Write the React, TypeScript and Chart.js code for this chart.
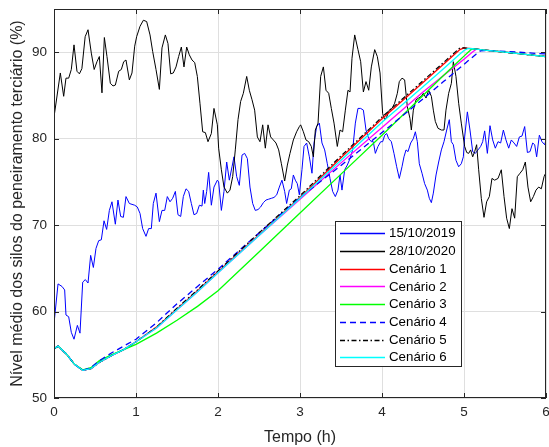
import React, { useEffect, useRef } from "react";
import { Chart, registerables } from "chart.js";

Chart.register(...registerables);

// ---------- DATA ----------
const xTicks = [0, 1, 2, 3, 4, 5, 6];
const yTicks = [50, 60, 70, 80, 90];

const labels = ["15/10/2019", "28/10/2020", "Cenário 1", "Cenário 2", "Cenário 3", "Cenário 4", "Cenário 5", "Cenário 6"];

const blueT = [
  0.0, 0.049, 0.098, 0.13, 0.146, 0.179, 0.211, 0.244, 0.285, 0.317, 0.35, 0.382, 0.415, 0.447, 0.48, 0.512, 0.545, 0.577, 0.61, 0.642, 0.675, 0.707, 0.748, 0.78, 0.813, 0.846, 0.878, 0.919, 0.984,
  1.016, 1.049, 1.081, 1.122, 1.154, 1.187, 1.211, 1.244, 1.285, 1.317, 1.35, 1.382, 1.415, 1.447, 1.48, 1.512, 1.545, 1.577, 1.61, 1.642, 1.675, 1.707, 1.74, 1.773, 1.805, 1.821, 1.838, 1.862, 1.886, 1.919, 1.951, 1.992,
  2.008, 2.041, 2.073, 2.106, 2.138, 2.171, 2.195, 2.228, 2.26, 2.293, 2.325, 2.358, 2.39, 2.423, 2.455, 2.488, 2.52, 2.553, 2.585, 2.618, 2.65, 2.683, 2.716, 2.748, 2.78, 2.813, 2.837, 2.87, 2.894, 2.919, 2.943, 2.967, 2.992,
  3.024, 3.049, 3.081, 3.114, 3.146, 3.171, 3.203, 3.236, 3.268, 3.301, 3.333, 3.366, 3.398, 3.431, 3.463, 3.488, 3.512, 3.545, 3.577, 3.61, 3.642, 3.675, 3.707, 3.74, 3.773, 3.805, 3.838, 3.87, 3.894, 3.919, 3.951, 3.984,
  4.008, 4.033, 4.057, 4.081, 4.114, 4.146, 4.179, 4.211, 4.244, 4.268, 4.293, 4.317, 4.35, 4.382, 4.407, 4.431, 4.455, 4.488, 4.52, 4.553, 4.577, 4.602, 4.626, 4.659, 4.691, 4.724, 4.756, 4.789, 4.821, 4.846, 4.87, 4.902, 4.935, 4.967, 4.992,
  5.008, 5.041, 5.073, 5.106, 5.138, 5.171, 5.203, 5.228, 5.252, 5.285, 5.317, 5.35, 5.382, 5.415, 5.447, 5.48, 5.512, 5.545, 5.577, 5.61, 5.642, 5.675, 5.707, 5.74, 5.773, 5.805, 5.838, 5.862, 5.886, 5.919, 5.951, 5.984, 6.0,
];
const blueV = [
  58.6, 63.2, 62.9, 62.5, 59.6, 59.4, 57.6, 56.8, 58.4, 57.5, 63.4, 63.7, 63.3, 66.5, 65.1, 67.3, 68.2, 68.3, 70.5, 69.5, 71.7, 72.7, 70.1, 72.9, 71.0, 70.9, 73.3, 72.5, 72.3,
  72.1, 71.35, 69.6, 68.7, 69.6, 69.6, 72.5, 73.7, 70.4, 71.7, 71.7, 73.3, 72.7, 73.1, 73.9, 71.2, 71.0, 73.3, 74.2, 73.9, 72.5, 71.2, 71.35, 72.3, 72.2, 74.05, 72.5, 73.9, 76.1, 72.3, 74.4, 75.2,
  75.0, 71.7, 73.9, 77.3, 75.2, 76.75, 77.9, 75.6, 74.6, 78.1, 78.3, 77.7, 74.4, 72.5, 71.7, 71.8, 72.1, 72.6, 72.9, 73.0, 73.1, 73.2, 73.5, 74.4, 75.2, 73.9, 72.5, 74.05, 74.2, 75.8, 75.2, 74.8, 73.5,
  76.4, 79.1, 79.5, 77.9, 76.0, 79.5, 81.4, 81.8, 79.5, 78.7, 77.1, 75.4, 73.9, 73.3, 74.05, 75.8, 74.05, 76.4, 76.95, 77.7, 78.7, 81.8, 83.5, 83.5, 83.3, 81.0, 80.0, 79.65, 79.65, 78.3, 79.1, 79.65,
  79.65, 80.4, 80.6, 80.0, 79.65, 78.3, 76.75, 75.4, 76.75, 77.9, 78.7, 78.5, 79.5, 80.0, 80.8, 79.65, 77.1, 76.0, 74.8, 74.05, 73.1, 72.6, 73.7, 75.8, 77.3, 78.7, 79.65, 81.0, 82.2, 79.65, 79.3, 77.5, 76.75, 77.1, 77.9,
  80.2, 83.1, 81.0, 78.5, 78.3, 78.7, 79.1, 79.65, 80.9, 78.3, 81.5, 79.85, 78.9, 79.65, 79.5, 81.0, 79.85, 78.9, 79.85, 79.5, 79.1, 80.2, 80.3, 81.4, 78.4, 78.5, 79.5, 79.3, 77.9, 80.4, 79.65, 79.3, 79.85,
];

const blackT = [
  0.0, 0.077, 0.118, 0.146, 0.179, 0.211, 0.244, 0.28, 0.31, 0.34, 0.38, 0.415, 0.455, 0.49, 0.524, 0.553, 0.585, 0.614, 0.646, 0.687, 0.72, 0.748, 0.789, 0.821, 0.85, 0.878, 0.919, 0.951, 0.984,
  1.008, 1.049, 1.09, 1.13, 1.171, 1.203, 1.244, 1.285, 1.317, 1.358, 1.39, 1.423, 1.455, 1.488, 1.52, 1.553, 1.585, 1.618, 1.65, 1.683, 1.716, 1.748, 1.78, 1.813, 1.846, 1.878, 1.919, 1.951, 1.992,
  2.008, 2.041, 2.073, 2.114, 2.146, 2.179, 2.211, 2.244, 2.276, 2.309, 2.35, 2.382, 2.415, 2.447, 2.48, 2.512, 2.545, 2.577, 2.61, 2.642, 2.675, 2.707, 2.74, 2.773, 2.813, 2.846, 2.878, 2.919, 2.959, 2.992,
  3.008, 3.041, 3.073, 3.106, 3.138, 3.163, 3.187, 3.22, 3.252, 3.285, 3.317, 3.35, 3.382, 3.415, 3.455, 3.488, 3.52, 3.553, 3.585, 3.61, 3.634, 3.667, 3.707, 3.74, 3.773, 3.805, 3.838, 3.87, 3.911, 3.943,
  3.976, 4.008, 4.033, 4.057, 4.089, 4.122, 4.154, 4.187, 4.211, 4.244, 4.276, 4.309, 4.341, 4.358, 4.382, 4.415, 4.447, 4.48, 4.504, 4.537, 4.569, 4.602, 4.626, 4.65, 4.683, 4.724, 4.756, 4.78, 4.813, 4.846, 4.87, 4.902, 4.935, 4.967,
  5.008, 5.033, 5.057, 5.081, 5.106, 5.13, 5.154, 5.179, 5.211, 5.244, 5.276, 5.309, 5.341, 5.374, 5.415, 5.455, 5.488, 5.52, 5.553, 5.585, 5.618, 5.65, 5.683, 5.716, 5.748, 5.78, 5.813, 5.846, 5.878, 5.911, 5.943, 5.976, 6.0,
];
const blackV = [
  82.5, 87.6, 84.9, 87.0, 87.0, 88.0, 90.85, 87.8, 87.5, 88.1, 91.8, 92.6, 89.9, 88.0, 88.9, 89.5, 85.3, 91.7, 89.5, 86.4, 86.1, 86.2, 87.8, 88.0, 88.9, 89.1, 86.8, 87.6, 90.7,
  91.8, 93.0, 93.7, 93.55, 92.0, 90.1, 88.0, 85.7, 90.5, 92.0, 91.0, 87.5, 87.6, 88.3, 89.5, 90.6, 88.3, 90.6, 89.7, 89.1, 88.8, 87.2, 84.1, 80.8, 80.7, 79.65, 80.6, 83.5, 81.6,
  78.9, 76.4, 74.4, 73.7, 74.05, 75.6, 78.7, 82.2, 84.3, 85.25, 87.2, 85.6, 84.5, 83.3, 80.2, 79.65, 81.6, 78.9, 81.6, 80.2, 79.85, 79.5, 78.7, 77.1, 75.1, 76.95, 78.3, 79.85, 80.8, 81.4,
  81.6, 80.8, 79.85, 79.65, 79.1, 77.9, 81.0, 81.8, 87.2, 88.3, 85.6, 85.25, 83.5, 81.8, 79.1, 81.0, 80.8, 83.3, 85.6, 85.4, 89.3, 92.0, 90.3, 88.9, 85.4, 86.6, 85.6, 88.3, 90.3, 89.5,
  87.6, 82.9, 82.2, 82.5, 83.3, 83.5, 84.1, 85.25, 86.6, 87.0, 86.8, 83.7, 82.35, 81.0, 83.3, 84.5, 84.7, 84.9, 85.25, 84.7, 85.6, 84.9, 83.3, 82.0, 81.2, 81.0, 81.0, 83.3, 85.25, 86.4, 88.9, 87.2, 84.1, 81.8,
  79.1, 78.4, 78.3, 78.7, 77.9, 78.5, 79.3, 76.4, 73.1, 70.9, 72.7, 73.3, 75.4, 75.2, 75.4, 76.4, 73.3, 70.8, 69.6, 71.9, 70.8, 75.6, 76.0, 76.4, 77.3, 74.4, 72.7, 73.3, 74.05, 74.4, 74.2, 75.6, 76.1,
];

const scenT = [0, 0.05, 0.15, 0.25, 0.35, 0.45, 0.55, 0.7, 0.85, 1.0, 1.25, 1.5, 1.75, 2.0, 2.5, 3.0, 3.5, 4.0, 4.5, 4.75, 4.95, 5.0, 5.05, 5.1, 5.15, 5.2, 5.25, 5.5, 6.0];
const cen1 = [55.7, 56.0, 55.1, 53.9, 53.2, 53.4, 54.1, 54.9, 55.6, 56.5, 58.2, 60.3, 62.4, 64.6, 68.9, 73.2, 77.8, 82.3, 86.5, 88.6, 90.3, 90.5, 90.45, 90.4, 90.35, 90.3, 90.25, 90.0, 89.5];
const cen2 = [55.7, 56.0, 55.1, 53.9, 53.2, 53.4, 54.1, 54.9, 55.6, 56.5, 58.1, 60.2, 62.3, 64.5, 68.8, 73.0, 77.2, 81.3, 85.4, 87.3, 88.8, 89.2, 89.6, 90.0, 90.35, 90.3, 90.25, 90.0, 89.5];
const cen3 = [55.7, 56.0, 55.1, 53.9, 53.25, 53.5, 54.3, 55.0, 55.6, 56.2, 57.5, 59.0, 60.6, 62.4, 66.9, 71.4, 75.9, 80.4, 85.0, 87.3, 89.1, 89.55, 90.0, 90.4, 90.35, 90.3, 90.25, 90.0, 89.5];
const cen4 = [55.7, 56.0, 55.1, 53.9, 53.2, 53.5, 54.3, 55.2, 56.0, 56.8, 58.7, 60.9, 62.9, 64.9, 69.1, 73.2, 76.9, 80.7, 84.6, 86.6, 88.2, 88.6, 89.0, 89.4, 89.8, 90.15, 90.2, 90.1, 89.8];
const cen5 = [55.7, 56.0, 55.1, 53.9, 53.2, 53.4, 54.1, 54.9, 55.6, 56.5, 58.2, 60.4, 62.5, 64.7, 69.1, 73.4, 78.0, 82.5, 86.7, 88.8, 90.5, 90.5, 90.45, 90.4, 90.35, 90.3, 90.25, 90.0, 89.5];
const cen6 = [55.7, 56.0, 55.1, 53.9, 53.2, 53.4, 54.1, 54.9, 55.6, 56.5, 58.1, 60.2, 62.3, 64.5, 68.8, 73.1, 77.5, 81.9, 86.0, 88.1, 89.8, 90.2, 90.45, 90.4, 90.35, 90.3, 90.25, 90.0, 89.5];

// ---------- STYLE ----------
const FONT = "'Liberation Sans', Arial, Helvetica, sans-serif";
const AXIS_COLOR = "#262626";
const GRID_COLOR = "#dfdfdf";

const pts = (T: number[], V: number[]) => T.map((t, i) => ({ x: t, y: V[i] }));

function makeDatasets() {
  const specs: any[] = [
    { T: blueT, V: blueV, color: "#0000ff", w: 1, dash: [] },
    { T: blackT, V: blackV, color: "#000000", w: 1, dash: [] },
    { T: scenT, V: cen1, color: "#ff0000", w: 1.3, dash: [] },
    { T: scenT, V: cen2, color: "#ff00ff", w: 1.3, dash: [] },
    { T: scenT, V: cen3, color: "#00ff00", w: 1.3, dash: [] },
    { T: scenT, V: cen4, color: "#0000ff", w: 1.3, dash: [6, 4] },
    { T: scenT, V: cen5, color: "#000000", w: 1.2, dash: [5, 2.5, 1.5, 2.5] },
    { T: scenT, V: cen6, color: "#00ffff", w: 1.3, dash: [] },
  ];
  return specs.map((s, i) => ({
    label: labels[i],
    data: pts(s.T, s.V),
    borderColor: s.color,
    backgroundColor: s.color,
    borderWidth: s.w,
    borderDash: s.dash,
    borderCapStyle: "butt",
    borderJoinStyle: "miter",
    pointRadius: 0,
    fill: false,
    tension: 0,
    order: specs.length - i,
  }));
}

const framePlugin = {
  id: "matlabFrame",
  afterDraw(chart: any) {
    const { ctx, chartArea, scales } = chart;
    const { left, right, top, bottom } = chartArea;
    const xs = scales.x;
    const ys = scales.y;
    ctx.save();
    ctx.strokeStyle = AXIS_COLOR;
    ctx.lineWidth = 1;
    ctx.beginPath();
    const tl = 5;
    for (const v of xTicks) {
      const px = Math.round(xs.getPixelForValue(v)) + 0.5;
      ctx.moveTo(px, bottom);
      ctx.lineTo(px, bottom - tl);
      ctx.moveTo(px, top);
      ctx.lineTo(px, top + tl);
    }
    for (const v of yTicks) {
      const py = Math.round(ys.getPixelForValue(v)) + 0.5;
      ctx.moveTo(left, py);
      ctx.lineTo(left + tl, py);
      ctx.moveTo(right, py);
      ctx.lineTo(right - tl, py);
    }
    ctx.stroke();
    ctx.strokeRect(Math.round(left) + 0.5, Math.round(top) + 0.5, Math.round(right - left) - 1, Math.round(bottom - top) - 1);

    // legend
    const bx = 335.5, by = 221.5, bw = 126, bh = 145;
    ctx.fillStyle = "#ffffff";
    ctx.fillRect(bx, by, bw, bh);
    ctx.strokeStyle = AXIS_COLOR;
    ctx.lineWidth = 1;
    ctx.strokeRect(bx, by, bw, bh);
    const ds = chart.data.datasets;
    ctx.font = `13.3px ${FONT}`;
    ctx.textBaseline = "middle";
    ctx.textAlign = "left";
    for (let i = 0; i < ds.length; i++) {
      const cy = 233.3 + i * 17.7;
      ctx.beginPath();
      ctx.strokeStyle = ds[i].borderColor;
      ctx.lineWidth = 1.3;
      ctx.setLineDash(ds[i].borderDash || []);
      ctx.moveTo(340, Math.round(cy) + 0.5);
      ctx.lineTo(385, Math.round(cy) + 0.5);
      ctx.stroke();
      ctx.setLineDash([]);
      ctx.fillStyle = "#000000";
      ctx.fillText(ds[i].label, 389, cy + 0.5);
    }
    ctx.restore();
  },
};

export default function App() {
  const ref = useRef<HTMLCanvasElement | null>(null);
  useEffect(() => {
    if (!ref.current) return;
    const chart = new Chart(ref.current, {
      type: "line",
      data: { datasets: makeDatasets() as any },
      plugins: [framePlugin],
      options: {
        animation: false,
        responsive: false,
        devicePixelRatio: 1,
        layout: { padding: { top: 9, right: 3, left: 0, bottom: 0 } },
        plugins: { legend: { display: false }, tooltip: { enabled: false } },
        scales: {
          x: {
            type: "linear",
            min: 0,
            max: 6,
            afterBuildTicks: (s: any) => {
              s.ticks = xTicks.map((v) => ({ value: v }));
            },
            afterFit: (s: any) => {
              s.height = 49;
              s.paddingLeft = 0;
              s.paddingRight = 0;
            },
            grid: { color: GRID_COLOR, lineWidth: 1, drawTicks: false },
            border: { display: false },
            ticks: { font: { family: FONT, size: 13.5 }, color: AXIS_COLOR, padding: 6, maxRotation: 0, autoSkip: false },
            title: { display: true, text: "Tempo (h)", font: { family: FONT, size: 16 }, color: AXIS_COLOR, padding: { top: 0, bottom: 0 } },
          },
          y: {
            type: "linear",
            min: 50,
            max: 95,
            afterBuildTicks: (s: any) => {
              s.ticks = yTicks.map((v) => ({ value: v }));
            },
            afterFit: (s: any) => {
              s.width = 54;
              s.paddingTop = 0;
              s.paddingBottom = 0;
            },
            grid: { color: GRID_COLOR, lineWidth: 1, drawTicks: false },
            border: { display: false },
            ticks: { font: { family: FONT, size: 13.5 }, color: AXIS_COLOR, padding: 7, autoSkip: false },
            title: {
              display: true,
              text: "Nível médio dos silos do peneiramento terciário (%)",
              font: { family: FONT, size: 16 },
              color: AXIS_COLOR,
              padding: { top: 8, bottom: 0 },
            },
          },
        },
      } as any,
    });
    return () => chart.destroy();
  }, []);
  return (
    <div style={{ position: "absolute", left: 0, top: 0, width: 549, height: 447, background: "#fff" }}>
      <canvas ref={ref} width={549} height={447} style={{ display: "block" }} />
    </div>
  );
}
